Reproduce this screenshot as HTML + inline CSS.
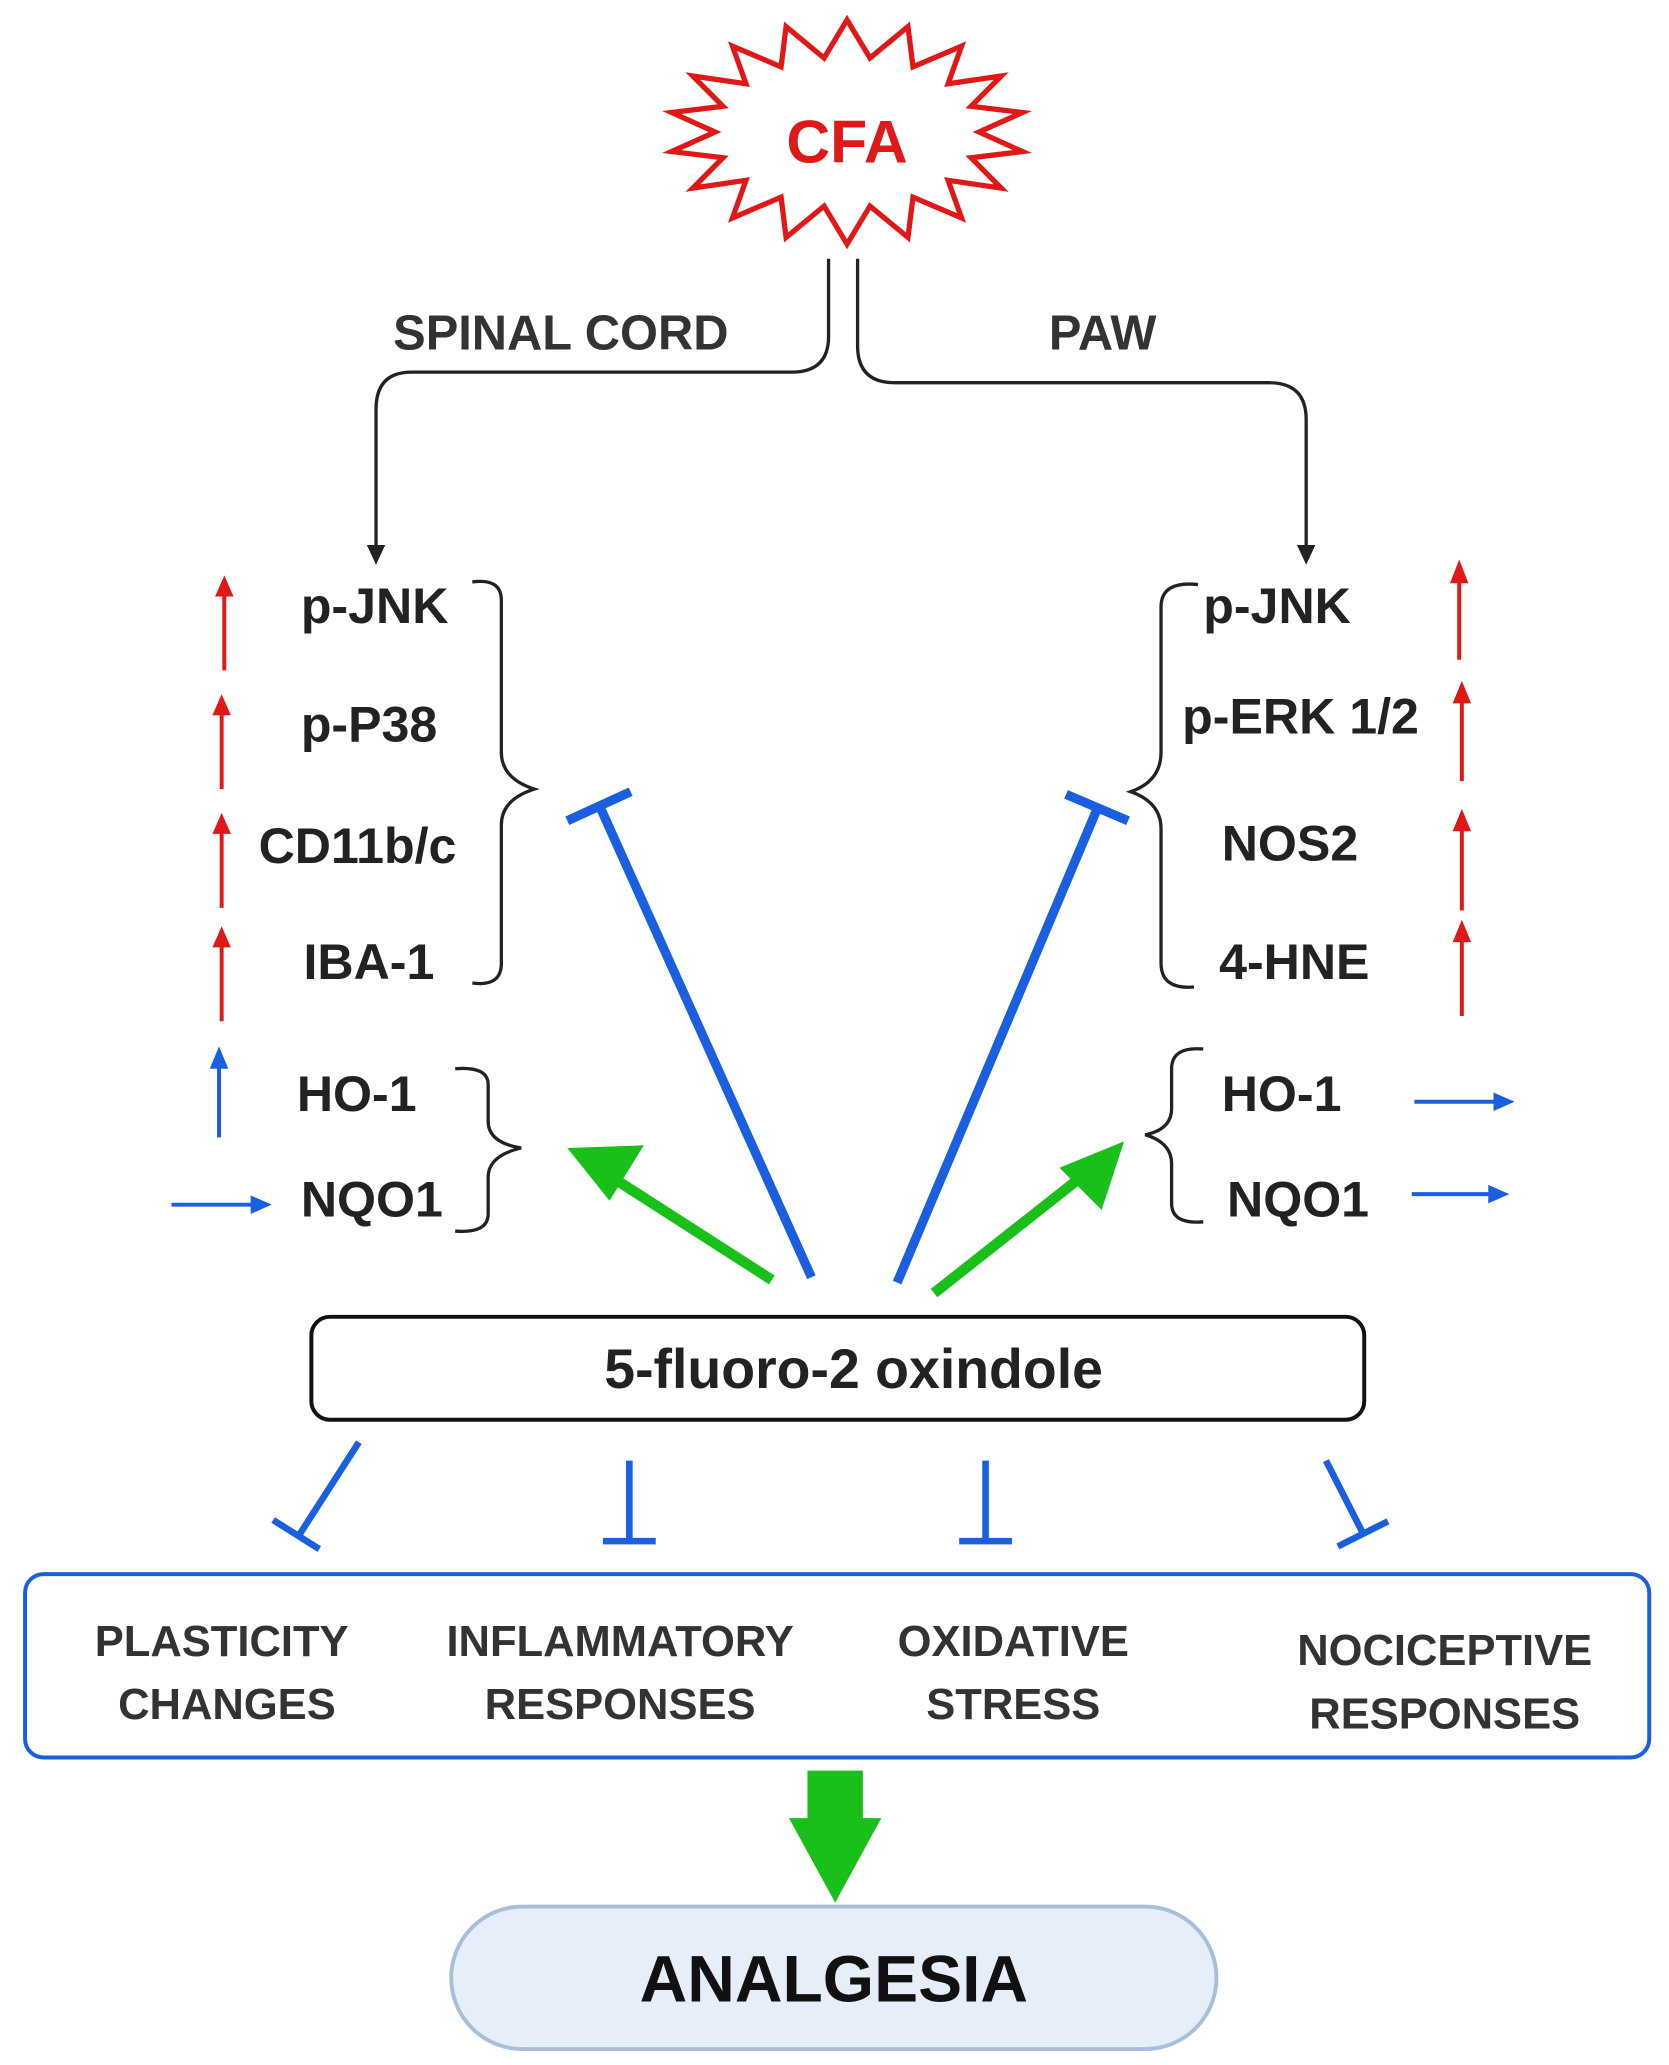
<!DOCTYPE html>
<html><head><meta charset="utf-8"><style>
html,body{margin:0;padding:0;background:#fff;}
svg{display:block}
text{font-family:"Liberation Sans",sans-serif;font-weight:bold;}
</style></head><body>
<svg id="s" width="1669" height="2065" viewBox="0 0 1265 1565" xmlns="http://www.w3.org/2000/svg">
<polygon id="star" fill="#fff" stroke="#e01818" stroke-width="4" points=""/>
<text x="642" y="123" font-size="46" fill="#e01818" text-anchor="middle">CFA</text>

<g fill="none" stroke="#222" stroke-width="2.5">
<path d="M628 196 V255 Q628 282 600 282 H312 Q285 282 285 310 V415"/>
<path d="M650 196 V262 Q650 290 678 290 H962 Q990 290 990 318 V415"/>
</g>
<polygon points="278,413 292,413 285,428" fill="#222"/>
<polygon points="983,413 997,413 990,428" fill="#222"/>
<text x="298" y="265" font-size="37" fill="#333">SPINAL CORD</text>
<text x="795" y="265" font-size="37" fill="#333">PAW</text>

<g font-size="38" fill="#222">
<text x="228" y="472">p-JNK</text>
<text x="228" y="562">p-P38</text>
<text x="196" y="654">CD11b/c</text>
<text x="230" y="742">IBA-1</text>
<text x="225" y="842">HO-1</text>
<text x="228" y="922">NQO1</text>
<text x="912" y="472">p-JNK</text>
<text x="896" y="556">p-ERK 1/2</text>
<text x="926" y="652">NOS2</text>
<text x="924" y="742">4-HNE</text>
<text x="926" y="842">HO-1</text>
<text x="930" y="922">NQO1</text>
</g>

<g fill="none" stroke="#222" stroke-width="2.5">
<path d="M358 441 Q380 438 380 455 V570 Q380 590 405 598 Q380 606 380 625 V730 Q380 748 358 745"/>
<path d="M345 810 Q370 808 370 822 V850 Q370 866 395 870 Q370 876 370 892 V920 Q370 935 345 933"/>
<path d="M908 443 Q880 440 880 460 V570 Q880 592 857 600 Q880 608 880 628 V730 Q880 750 905 748"/>
<path d="M912 795 Q888 793 888 810 V840 Q888 856 868 860 Q888 866 888 882 V912 Q888 928 912 926"/>
</g>

<g stroke="#e01818" stroke-width="3">
<line x1="170" y1="450" x2="170" y2="508"/>
<line x1="168" y1="540" x2="168" y2="598"/>
<line x1="168" y1="630" x2="168" y2="688"/>
<line x1="168" y1="716" x2="168" y2="774"/>
<line x1="1106" y1="440" x2="1106" y2="500"/>
<line x1="1108" y1="530" x2="1108" y2="592"/>
<line x1="1108" y1="628" x2="1108" y2="690"/>
<line x1="1108" y1="712" x2="1108" y2="770"/>
</g>
<g fill="#e01818">
<polygon points="163,452 177,452 170,436"/>
<polygon points="161,542 175,542 168,526"/>
<polygon points="161,632 175,632 168,616"/>
<polygon points="161,718 175,718 168,702"/>
<polygon points="1099,442 1113,442 1106,424"/>
<polygon points="1101,533 1115,533 1108,516"/>
<polygon points="1101,630 1115,630 1108,613"/>
<polygon points="1101,714 1115,714 1108,697"/>
</g>
<g stroke="#1a5fe0" stroke-width="3">
<line x1="166" y1="808" x2="166" y2="862"/>
<line x1="130" y1="913" x2="192" y2="913"/>
<line x1="1072" y1="835" x2="1135" y2="835"/>
<line x1="1070" y1="905" x2="1130" y2="905"/>
</g>
<g fill="#1a5fe0">
<polygon points="159,810 173,810 166,793"/>
<polygon points="190,906 190,920 206,913"/>
<polygon points="1132,828 1132,842 1148,835"/>
<polygon points="1128,898 1128,912 1144,905"/>
</g>

<g stroke="#1a5fe0" stroke-width="7" fill="none">
<line x1="615" y1="968" x2="455" y2="612"/>
<line x1="430" y1="622" x2="478" y2="600"/>
<line x1="680" y1="972" x2="832" y2="612"/>
<line x1="808" y1="602" x2="855" y2="622"/>
</g>
<g stroke="#19c01a" stroke-width="8">
<line x1="585" y1="970" x2="465" y2="893"/>
<line x1="708" y1="980" x2="822" y2="890"/>
</g>
<g fill="#19c01a">
<polygon points="430,870 488,868 462,910"/>
<polygon points="852,865 835,917 803,885"/>
</g>

<rect x="236" y="998" width="798" height="78" rx="14" fill="#fff" stroke="#111" stroke-width="3"/>
<text x="647" y="1052" font-size="42" fill="#222" text-anchor="middle">5-fluoro-2 oxindole</text>

<g stroke="#1a5fe0" stroke-width="5" fill="none">
<line x1="272" y1="1093" x2="227" y2="1163"/>
<line x1="207" y1="1152" x2="242" y2="1174"/>
<line x1="477" y1="1107" x2="477" y2="1168"/>
<line x1="457" y1="1168" x2="497" y2="1168"/>
<line x1="747" y1="1107" x2="747" y2="1168"/>
<line x1="727" y1="1168" x2="767" y2="1168"/>
<line x1="1005" y1="1107" x2="1033" y2="1162"/>
<line x1="1014" y1="1172" x2="1052" y2="1153"/>
</g>

<rect x="19" y="1193" width="1231" height="139" rx="14" fill="#fff" stroke="#1a5fe0" stroke-width="3"/>
<g font-size="33" fill="#333" text-anchor="middle">
<text x="168" y="1255">PLASTICITY</text>
<text x="172" y="1303">CHANGES</text>
<text x="470" y="1255">INFLAMMATORY</text>
<text x="470" y="1303">RESPONSES</text>
<text x="768" y="1255">OXIDATIVE</text>
<text x="768" y="1303">STRESS</text>
<text x="1095" y="1262">NOCICEPTIVE</text>
<text x="1095" y="1310">RESPONSES</text>
</g>

<polygon points="612,1342 654,1342 654,1378 668,1378 633,1442 598,1378 612,1378" fill="#19c01a"/>

<rect x="342" y="1445" width="580" height="108" rx="54" fill="#e6eef9" stroke="#a8bfdc" stroke-width="3"/>
<text x="632" y="1517" font-size="50" fill="#111" text-anchor="middle">ANALGESIA</text>
</svg>
<script>
var pts=[],cx=642,cy=100,n=18;
for(var i=0;i<2*n;i++){var a=Math.PI*i/n - Math.PI/2;var o=i%2==0;var rx=o?135:100,ry=o?85:57;pts.push((cx+rx*Math.cos(a)).toFixed(1)+","+(cy+ry*Math.sin(a)).toFixed(1));}
document.getElementById("star").setAttribute("points",pts.join(" "));
</script>
</body></html>
